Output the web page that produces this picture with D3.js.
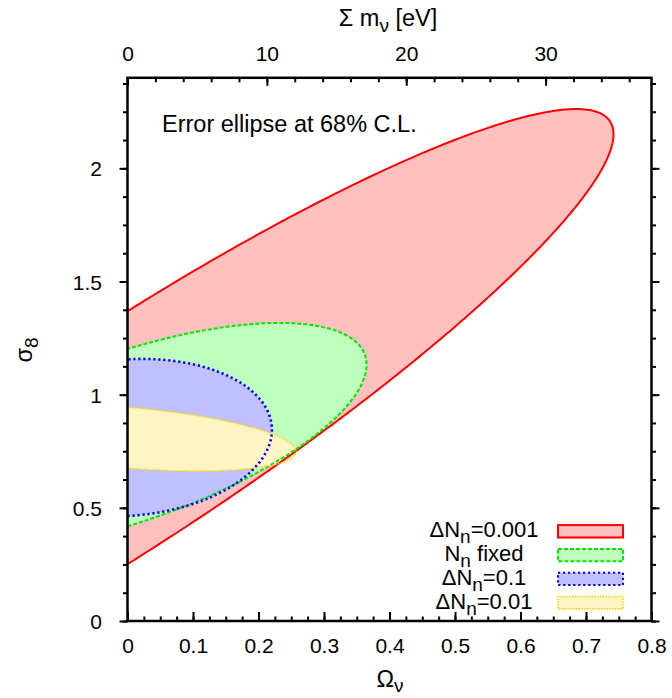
<!DOCTYPE html>
<html><head><meta charset="utf-8">
<script src="https://cdn.jsdelivr.net/npm/d3@7"></script>
<style>
body{margin:0;background:#fff}
text{font-family:"Liberation Sans",Arial,Helvetica,sans-serif;}
</style>
</head><body>
<svg id="c" width="672" height="698"></svg>
<script>
// ---- data ----
const seriesLabels = [
  [["ΔN",0],["n",1],["=0.001",0]],
  [["N",0],["n",1],[" fixed",0]],
  [["ΔN",0],["n",1],["=0.1",0]],
  [["ΔN",0],["n",1],["=0.01",0]]
];
const centerOmega   = [0, 0, 0, 0];
const centerSigma8  = [0.81, 0.81, 0.81, 0.81];
const omegaHalfExtent  = [0.742, 0.365, 0.2205, 0.2575];
const sigma8HalfExtent = [1.452, 0.507, 0.348, 0.148];
const correlation      = [0.923, 0.635, 0.10, -0.413];
const xTickValues  = [0, 0.1, 0.2, 0.3, 0.4, 0.5, 0.6, 0.7, 0.8];
const yTickValues  = [0, 0.5, 1, 1.5, 2];
const topTickValues = [0, 10, 20, 30];
const eVPerOmega = 47;

// ---- styles ----
const fillColors   = ["#ffc0c0", "#bfffbf", "#c0c0ff", "#fff5c4"];
const strokeColors = ["#ff0000", "#00e600", "#0000ff", "#ffd000"];
const strokeDash   = [null, "4,2", "2.2,2.8", "1.4,1.4"];
const strokeW      = [2, 2, 2.6, 1.6];

const svg = d3.select("#c");
const L = 127.5, R = 651.5, T = 77.8, B = 621;
const x = d3.scaleLinear().domain([0, 0.8]).range([L, R]);
const y = d3.scaleLinear().domain([0, 2.4]).range([B, T]);
const x2 = d3.scaleLinear().domain([0, 0.8 * eVPerOmega]).range([L, R]);
const FS = 21;     // tick labels
const LFS = 22;    // legend
const TFS = 23.5;  // titles / annotation

svg.append("clipPath").attr("id", "clip").append("rect")
  .attr("x", L).attr("y", T).attr("width", R - L).attr("height", B - T);

function ellipsePts(i) {
  const pts = [];
  const A = omegaHalfExtent[i], Bv = sigma8HalfExtent[i], r = correlation[i];
  const s = Math.sqrt(1 - r * r);
  for (let k = 0; k <= 360; k++) {
    const t = -Math.PI / 2 + Math.PI * k / 360;
    pts.push([centerOmega[i] + A * Math.cos(t),
              centerSigma8[i] + Bv * (r * Math.cos(t) + s * Math.sin(t))]);
  }
  return pts;
}
const line = d3.line().x(d => x(d[0])).y(d => y(d[1]));
const g = svg.append("g").attr("clip-path", "url(#clip)");
const paths = seriesLabels.map((_, i) => ellipsePts(i));
paths.forEach((p, i) => {
  g.append("path").attr("d", line(p) + "Z").attr("fill", fillColors[i]).attr("stroke", "none");
});
paths.forEach((p, i) => {
  g.append("path").attr("d", line(p)).attr("fill", "none")
    .attr("stroke", strokeColors[i]).attr("stroke-width", strokeW[i])
    .attr("stroke-dasharray", strokeDash[i]);
});

// ---- axes ----
function styleAxis(sel) {
  sel.select(".domain").remove();
  sel.selectAll("line").attr("stroke", "#000").attr("stroke-width", 2);
  sel.selectAll("text").attr("font-size", FS).attr("fill", "#000")
    .attr("font-family", '"Liberation Sans",Arial,sans-serif');
}
const fmt = d => d3.format("~g")(d);
const minorX = d3.range(0, 0.8001, 0.025);
const minorY = d3.range(0, 2.4001, 0.125);
const minorTop = d3.range(0, 0.8 * eVPerOmega, 2);

svg.append("g").attr("transform", `translate(0,${B})`)
  .call(d3.axisBottom(x).tickValues(minorX).tickSize(-4.5).tickFormat("")).call(styleAxis);
svg.append("g").attr("transform", `translate(0,${B})`)
  .call(d3.axisBottom(x).tickValues(xTickValues).tickSize(-9).tickPadding(17).tickFormat(fmt)).call(styleAxis);

svg.append("g").attr("transform", `translate(0,${T})`)
  .call(d3.axisTop(x2).tickValues(minorTop).tickSize(-4.5).tickFormat("")).call(styleAxis);
svg.append("g").attr("transform", `translate(0,${T})`)
  .call(d3.axisTop(x2).tickValues(topTickValues).tickSize(-8).tickPadding(17).tickFormat(fmt)).call(styleAxis);

svg.append("g").attr("transform", `translate(${L},0)`)
  .call(d3.axisLeft(y).tickValues(minorY).tickSize(4.5).tickFormat("")).call(styleAxis);
const la = svg.append("g").attr("transform", `translate(${L},0)`)
  .call(d3.axisLeft(y).tickValues(yTickValues).tickSize(8).tickPadding(17.5).tickFormat(fmt)).call(styleAxis);
la.selectAll("text").attr("dy", "0.36em");

svg.append("g").attr("transform", `translate(${R},0)`)
  .call(d3.axisRight(y).tickValues(minorY).tickSize(4.5).tickFormat("")).call(styleAxis);
svg.append("g").attr("transform", `translate(${R},0)`)
  .call(d3.axisRight(y).tickValues(yTickValues).tickSize(8).tickFormat("")).call(styleAxis);

// frame
svg.append("rect").attr("x", L).attr("y", T).attr("width", R - L).attr("height", B - T)
  .attr("fill", "none").attr("stroke", "#000").attr("stroke-width", 2.5);

// ---- labels ----
function richText(parent, parts, size, subSize, subShift) {
  let shifted = false;
  parts.forEach(([s, sub]) => {
    const ts = parent.append("tspan").text(s);
    if (sub && !shifted) { ts.attr("dy", subShift).attr("font-size", subSize); shifted = true; }
    else if (!sub && shifted) { ts.attr("dy", -subShift).attr("font-size", size); shifted = false; }
    else ts.attr("font-size", sub ? subSize : size);
  });
}
const bl = svg.append("text").attr("x", 390).attr("y", 687).attr("text-anchor", "middle").attr("font-size", TFS);
richText(bl, [["Ω",0],["ν",1]], TFS, 19, 5);
const tl = svg.append("text").attr("x", 388).attr("y", 26).attr("text-anchor", "middle").attr("font-size", TFS);
richText(tl, [["Σ m",0],["ν",1],[" [eV]",0]], TFS, 19, 6);
const ll = svg.append("text").attr("transform", "translate(32,350) rotate(-90)").attr("text-anchor", "middle").attr("font-size", TFS);
richText(ll, [["σ",0],["8",1]], TFS, 19, 6);

svg.append("text").attr("x", 162).attr("y", 131.7).attr("font-size", TFS)
  .text("Error ellipse at 68% C.L.");

// ---- legend ----
seriesLabels.forEach((parts, i) => {
  const cy = 531.3 + i * 23.8;
  const t = svg.append("text").attr("x", 484).attr("y", cy + 5.8).attr("text-anchor", "middle").attr("font-size", LFS);
  richText(t, parts, LFS, 19, 6);
  svg.append("rect").attr("x", 558).attr("y", cy - 6.2).attr("width", 65).attr("height", 12.4)
    .attr("fill", fillColors[i]).attr("stroke", strokeColors[i])
    .attr("stroke-width", Math.min(strokeW[i], 2)).attr("stroke-dasharray", strokeDash[i]);
});
</script>
</body></html>
